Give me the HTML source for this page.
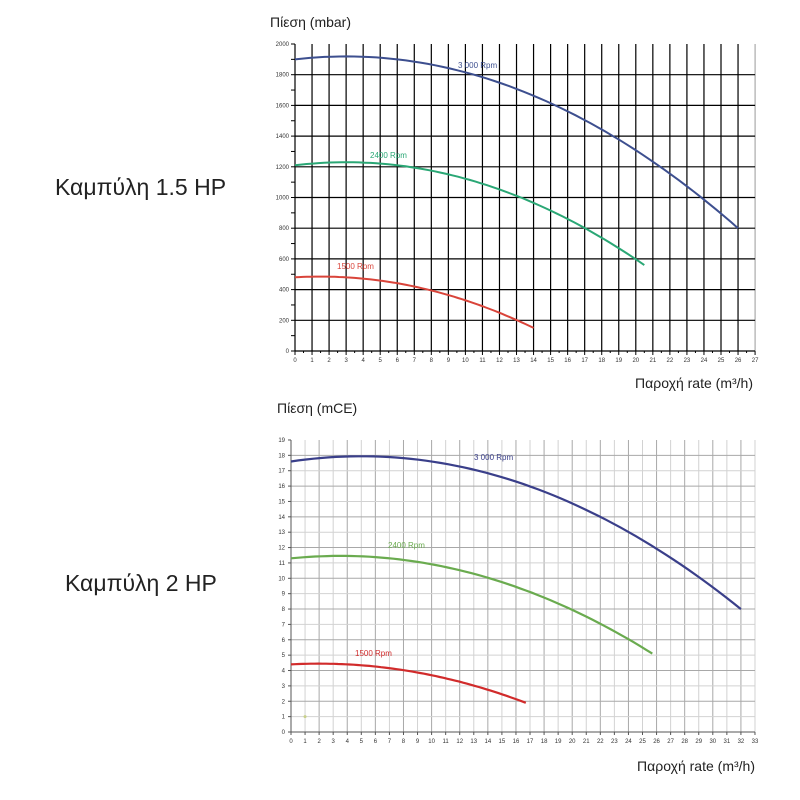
<!DOCTYPE html><html><head><meta charset="utf-8"><style>
body{margin:0;background:#fff;width:800px;height:800px;overflow:hidden}
svg{display:block}
text{font-family:"Liberation Sans","DejaVu Sans",sans-serif}
</style></head><body>
<svg id="s" width="800" height="800" xmlns="http://www.w3.org/2000/svg">
<text x="55" y="195" font-size="23" fill="#222">Καμπύλη 1.5 HP</text>
<text x="65" y="591" font-size="23" fill="#222">Καμπύλη 2 HP</text>
<text x="270" y="27" font-size="14" fill="#222">Πίεση (mbar)</text>
<text x="277" y="413" font-size="14" fill="#222">Πίεση (mCE)</text>
<text x="753" y="388" font-size="14" fill="#222" text-anchor="end">Παροχή rate (m³/h)</text>
<text x="755" y="771" font-size="14" fill="#222" text-anchor="end">Παροχή rate (m³/h)</text>
</svg>
<script>
var s=document.getElementById('s'),h='';
function L(x1,y1,x2,y2,c,w){h+='<line x1="'+x1+'" y1="'+y1+'" x2="'+x2+'" y2="'+y2+'" stroke="'+c+'" stroke-width="'+w+'"/>';}
function T(x,y,t,sz,c,a){h+='<text x="'+x+'" y="'+y+'" font-size="'+sz+'" fill="'+c+'" text-anchor="'+(a||'start')+'">'+t+'</text>';}
var X0=295,SX=17.04,Y0=351,SY=0.1535;
function tx(x){return X0+x*SX}function ty(v){return Y0-v*SY}
for(var i=0;i<=26;i++)L(tx(i),44,tx(i),Y0,'#000',1.2);
L(tx(27),44,tx(27),Y0,'#999',1);
for(var v=200;v<=1800;v+=200)L(X0,ty(v),tx(27),ty(v),'#000',1.2);
L(X0,Y0,tx(27),Y0,'#000',1.2);
for(var v=0;v<=2000;v+=100)L(X0-4,ty(v),X0,ty(v),'#000',1);
for(var i=0;i<=54;i++)L(tx(i/2),Y0,tx(i/2),Y0+(i%2?2:4),'#000',1);
for(var v=0;v<=2000;v+=200)T(X0-6,ty(v)+2,v,6,'#333','end');
for(var i=0;i<=27;i++)T(tx(i),Y0+11,i,6,'#333','middle');
function curve(f,x1,X,Y,c,w){var p='';for(var x=0;x<=x1+1e-9;x+=x1/60)p+=(p?'L':'M')+X(x).toFixed(1)+' '+Y(f(x)).toFixed(1);h+='<path d="'+p+'" fill="none" stroke="'+c+'" stroke-width="'+w+'"/>';}
curve(function(x){return 1900+12.69*x-2.115*x*x},26,tx,ty,'#3d4f8f',2);
curve(function(x){return 1210+13.12*x-2.187*x*x},20.5,tx,ty,'#2aa775',2);
curve(function(x){return 480+6.42*x-2.14*x*x},14,tx,ty,'#d9443a',2);
T(458,68,'3 000 Rpm',8,'#3d4f8f');T(370,158,'2400 Rpm',8,'#2aa775');T(337,269,'1500 Rpm',8,'#d9443a');
var BX=291,BSX=14.06,BY=732,BSY=15.37;
function bx(x){return BX+x*BSX}function by(v){return BY-v*BSY}
for(var i=1;i<=33;i++)L(bx(i),by(19),bx(i),BY,i%2?'#d2d2d2':'#a8a8a8',1);
for(var v=1;v<=18;v++)L(BX,by(v),bx(33),by(v),v%2?'#d2d2d2':'#a8a8a8',1);
L(BX,by(19),BX,BY,'#555',1);L(BX,BY,bx(33),BY,'#555',1);
for(var v=0;v<=19;v++){L(BX-3,by(v),BX,by(v),'#555',1);T(BX-6,by(v)+2,v,6,'#333','end');}
for(var i=0;i<=33;i++){L(bx(i),BY,bx(i),BY+3,'#555',1);T(bx(i),BY+11,i,6,'#333','middle');}
curve(function(x){return 17.6+0.1364*x-0.01364*x*x},32,bx,by,'#3a3f8a',2.2);
curve(function(x){return 11.3+0.0903*x-0.0129*x*x},25.7,bx,by,'#6aab4f',2.2);
curve(function(x){return 4.4+0.0472*x-0.01179*x*x},16.7,bx,by,'#d12b2b',2.2);
h+='<circle cx="'+bx(1)+'" cy="'+by(1)+'" r="1.5" fill="#c8d08a"/>';
T(474,460,'3 000 Rpm',8,'#3a3f8a');T(388,548,'2400 Rpm',8,'#6aab4f');T(355,656,'1500 Rpm',8,'#d12b2b');
s.insertAdjacentHTML('beforeend',h);
</script>
</body></html>
